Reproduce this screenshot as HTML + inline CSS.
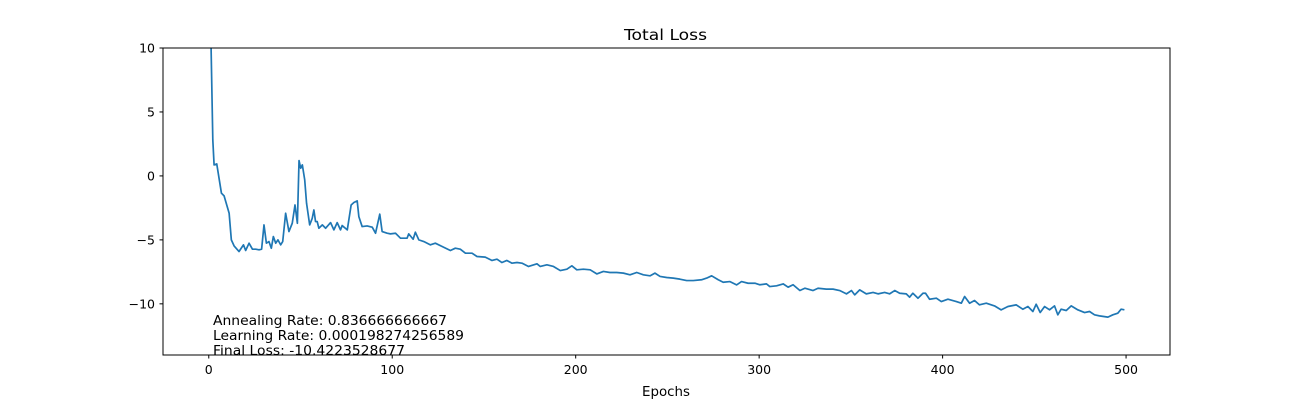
<!DOCTYPE html>
<html><head><meta charset="utf-8"><style>
body{margin:0;background:#fff;}
svg text{font-family:"DejaVu Sans","Liberation Sans",sans-serif;fill:#000;}
</style></head><body>
<svg id="chart" width="1300" height="400" xmlns="http://www.w3.org/2000/svg">
<defs><clipPath id="clip"><rect x="163" y="48" width="1007" height="307"/></clipPath></defs>
<rect width="1300" height="400" fill="#fff"/>
<text x="624" y="40" font-size="15.5" textLength="83" lengthAdjust="spacingAndGlyphs">Total Loss</text>
<g id="ticks"></g>
<path id="line" fill="none" stroke="#1f77b4" stroke-width="1.7" stroke-linejoin="round" clip-path="url(#clip)"/>
<rect x="163" y="48" width="1007" height="307" fill="none" stroke="#000" stroke-width="1"/>
<text x="213" y="325" font-size="13" textLength="234" lengthAdjust="spacingAndGlyphs">Annealing Rate: 0.836666666667</text>
<text x="213" y="340" font-size="13" textLength="251" lengthAdjust="spacingAndGlyphs">Learning Rate: 0.000198274256589</text>
<text x="213" y="355" font-size="13" textLength="192" lengthAdjust="spacingAndGlyphs">Final Loss: -10.4223528677</text>
<text x="642" y="396" font-size="13" textLength="48" lengthAdjust="spacingAndGlyphs">Epochs</text>
</svg>
<script>
const epochs=[0,1,2.2,2.9,4.35,6.9,8.35,11.1,12.3,13.8,16.5,18.9,20.1,21.95,23.8,25.6,27.4,28.8,30.1,31.4,32.8,34.1,35.2,36.5,37.7,39.2,40.3,41.9,43.7,45.5,47,48.3,49.2,50.1,51,52.3,53.3,55,56.4,57.3,58.2,59.1,60,61.9,63.7,66.4,68.2,70,71.8,72.7,75.5,77.6,79.1,80.9,81.8,83.6,86.3,89.1,90.9,93.2,94.5,97.2,
99,101.8,104.5,108.1,109,111.4,112.6,114.5,117.2,120.8,123.5,127.2,131.7,134.4,137.1,139.9,143.5,146.2,150.7,154.4,157.1,159.8,162.5,165.2,168,170.7,174.3,178.9,180.7,184.3,187.9,191.6,195.2,197.9,200.6,204.2,207.9,211.5,215.1,218.7,222.4,226,229.6,233.3,236.9,240.5,243.2,246,249.6,253.2,256.8,260.5,264.1,268.6,271.4,274.1,277.7,280.4,284.1,287.7,290.4,294,297.7,
300.4,304,305.8,309.5,313.1,315.8,318.5,322.2,324.9,329.4,332.1,336.6,340.3,343.9,347.6,350.3,352.1,354.8,358.4,362.1,364.8,368.4,371.1,373.9,376.6,380.2,382,383.8,386.6,389.3,390.7,392.9,396.6,399.3,402.9,407.5,410.2,412,414.7,417.4,420.1,423.8,428.3,431.9,435.6,440.1,443.7,446.5,449.2,451,453.2,455.6,458.3,461,462.8,464.6,467.4,470.1,473.7,477.4,480.1,482.8,485.5,490.1,492.8,495.5,497.3,499.1];
const loss=[45,12,2.81,0.86,0.94,-1.35,-1.56,-2.92,-5.0,-5.47,-5.91,-5.39,-5.83,-5.26,-5.73,-5.73,-5.78,-5.73,-3.83,-5.26,-5.13,-5.65,-4.74,-5.26,-5.0,-5.39,-5.13,-2.92,-4.35,-3.7,-2.27,-3.7,1.2,0.6,0.86,-0.31,-2.14,-3.83,-3.31,-2.66,-3.57,-3.57,-4.09,-3.83,-4.09,-3.65,-4.22,-3.65,-4.22,-3.88,-4.22,-2.27,-2.08,-1.95,-3.18,-3.96,-3.91,-4.01,-4.48,-2.99,-4.35,-4.48,
-4.53,-4.48,-4.87,-4.87,-4.53,-4.95,-4.4,-5.0,-5.13,-5.39,-5.26,-5.52,-5.83,-5.65,-5.73,-6.04,-6.04,-6.3,-6.35,-6.61,-6.51,-6.77,-6.61,-6.82,-6.77,-6.82,-7.08,-6.87,-7.08,-6.95,-7.08,-7.4,-7.29,-7.03,-7.34,-7.29,-7.34,-7.66,-7.47,-7.55,-7.55,-7.6,-7.73,-7.55,-7.73,-7.81,-7.6,-7.86,-7.94,-7.99,-8.07,-8.18,-8.18,-8.12,-7.99,-7.81,-8.12,-8.31,-8.26,-8.52,-8.26,-8.39,-8.39,
-8.51,-8.44,-8.65,-8.59,-8.44,-8.7,-8.51,-8.96,-8.78,-8.96,-8.78,-8.85,-8.85,-8.96,-9.22,-8.96,-9.3,-8.91,-9.22,-9.11,-9.22,-9.11,-9.22,-8.96,-9.17,-9.22,-9.48,-9.17,-9.56,-9.17,-9.17,-9.64,-9.56,-9.82,-9.64,-9.82,-9.95,-9.43,-9.95,-9.74,-10.08,-9.95,-10.16,-10.47,-10.21,-10.08,-10.42,-10.21,-10.6,-10.03,-10.68,-10.21,-10.47,-10.16,-10.86,-10.42,-10.52,-10.16,-10.47,-10.68,-10.6,-10.86,-10.94,-11.04,-10.86,-10.73,-10.42,-10.47];
const xTicks=[0,100,200,300,400,500];
const yTicks=[-10,-5,0,5,10];
const X0=163,W=1007,Y0=48,H=307,XMIN=-24.95,XMAX=523.95,YMIN=-14,YMAX=10;
function sx(v){return X0+(v-XMIN)/(XMAX-XMIN)*W;}
function sy(v){return Y0+(YMAX-v)/(YMAX-YMIN)*H;}
const NS="http://www.w3.org/2000/svg";
let d="";
for(let i=0;i<epochs.length;i++){d+=(i?"L":"M")+sx(epochs[i]).toFixed(2)+","+sy(loss[i]).toFixed(2);}
document.getElementById("line").setAttribute("d",d);
const g=document.getElementById("ticks");
xTicks.forEach(t=>{
  const l=document.createElementNS(NS,"line");
  l.setAttribute("x1",sx(t));l.setAttribute("x2",sx(t));l.setAttribute("y1",355);l.setAttribute("y2",358.5);l.setAttribute("stroke","#000");
  
  
  g.appendChild(l);
  const tx=document.createElementNS(NS,"text");
  tx.setAttribute("x",sx(t));tx.setAttribute("y",374);tx.setAttribute("font-size","12.5");tx.setAttribute("text-anchor","middle");tx.textContent=t;
  
  
  g.appendChild(tx);
});
yTicks.forEach(t=>{
  const l=document.createElementNS(NS,"line");
  l.setAttribute("x1",159.5);l.setAttribute("x2",163);l.setAttribute("y1",sy(t));l.setAttribute("y2",sy(t));l.setAttribute("stroke","#000");
  
  
  g.appendChild(l);
  const tx=document.createElementNS(NS,"text");
  tx.setAttribute("x",155);tx.setAttribute("y",sy(t)+4.5);tx.setAttribute("font-size","12.5");tx.setAttribute("text-anchor","end");tx.textContent=(t<0?"\u2212"+(-t):t);
  
  
  g.appendChild(tx);
});
</script>
</body></html>
